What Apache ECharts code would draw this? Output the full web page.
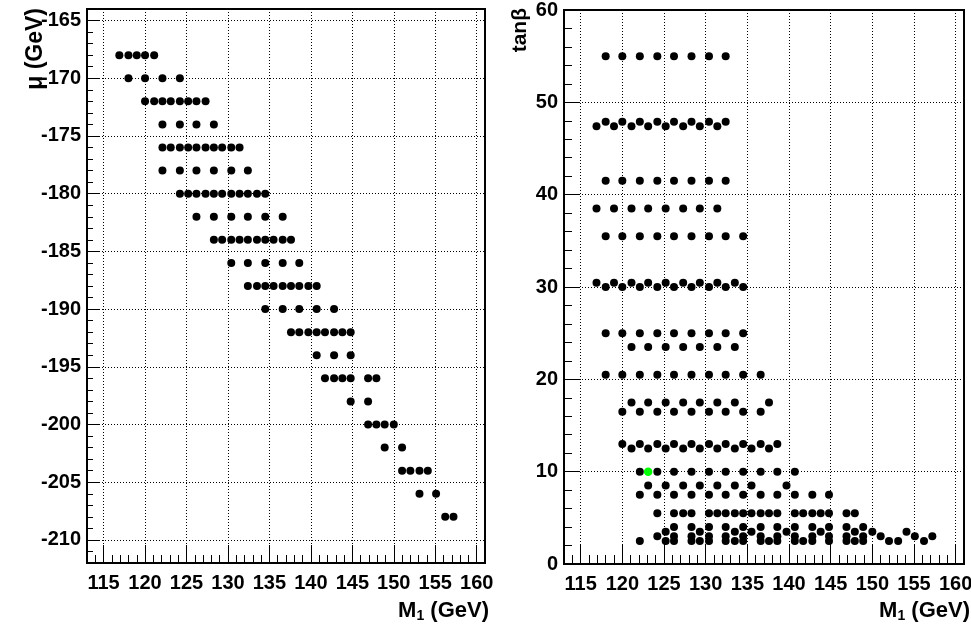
<!DOCTYPE html>
<html><head><meta charset="utf-8">
<script src="https://cdn.jsdelivr.net/npm/echarts@6/dist/echarts.min.js"></script>
<style>html,body{margin:0;padding:0;background:#fff}#c{width:971px;height:630px}</style>
</head><body><div id="c"></div><script>
// ---- data ----
// Left panel: mu (GeV) rows -> M1 (GeV) values
const muRows = [
  [-168, [116.9,118.0,119.0,120.0,121.1]],
  [-170, [118.0,120.0,122.1,124.2]],
  [-172, [120.0,121.1,122.1,123.1,124.2,125.2,126.2,127.3]],
  [-174, [122.1,124.2,126.2,128.3]],
  [-176, [122.1,123.1,124.2,125.2,126.2,127.3,128.3,129.3,130.4,131.4]],
  [-178, [122.1,124.2,126.2,128.3,130.4,132.4]],
  [-180, [124.2,125.2,126.2,127.3,128.3,129.3,130.4,131.4,132.4,133.5,134.5]],
  [-182, [126.2,128.3,130.4,132.4,134.5,136.6]],
  [-184, [128.3,129.3,130.4,131.4,132.4,133.5,134.5,135.5,136.6,137.6]],
  [-186, [130.4,132.4,134.5,136.6,138.6]],
  [-188, [132.4,133.5,134.5,135.5,136.6,137.6,138.6,139.7,140.7]],
  [-190, [134.5,136.6,138.6,140.7,142.8]],
  [-192, [137.6,138.6,139.7,140.7,141.7,142.8,143.8,144.8]],
  [-194, [140.7,142.8,144.8]],
  [-196, [141.7,142.8,143.8,144.8,146.9,147.9]],
  [-198, [144.8,146.9]],
  [-200, [146.9,147.9,148.9,150.0]],
  [-202, [148.9,151.0]],
  [-204, [151.0,152.0,153.1,154.1]],
  [-206, [153.1,155.1]],
  [-208, [156.2,157.2]]
];
// Right panel: tan(beta) rows -> M1 (GeV) values
const tbRows = [
  [55.0, [118.0,120.0,122.1,124.2,126.2,128.3,130.4,132.4]],
  [47.9, [118.0,120.0,122.1,124.2,126.2,128.3,130.4,132.4]],
  [47.4, [116.9,119.0,121.1,123.1,125.2,127.3,129.3,131.4]],
  [41.5, [118.0,120.0,122.1,124.2,126.2,128.3,130.4,132.4]],
  [38.5, [116.9,119.0,121.1,123.1,125.2,127.3,129.3,131.4]],
  [35.5, [118.0,120.0,122.1,124.2,126.2,128.3,130.4,132.4,134.5]],
  [30.45,[116.9,119.0,121.1,123.1,125.2,127.3,129.3,131.4,133.5]],
  [30.0, [118.0,120.0,122.1,124.2,126.2,128.3,130.4,132.4,134.5]],
  [25.0, [118.0,120.0,122.1,124.2,126.2,128.3,130.4,132.4,134.5]],
  [23.5, [121.1,123.1,125.2,127.3,129.3,131.4,133.5]],
  [20.5, [118.0,120.0,122.1,124.2,126.2,128.3,130.4,132.4,134.5,136.6]],
  [17.5, [121.1,123.1,125.2,127.3,129.3,131.4,133.5,137.6]],
  [16.5, [120.0,122.1,124.2,126.2,128.3,130.4,132.4,134.5,136.6]],
  [13.0, [120.0,122.1,124.2,126.2,128.3,130.4,132.4,134.5,136.6,138.6]],
  [12.5, [121.1,123.1,125.2,127.3,129.3,131.4,133.5,135.5,137.6]],
  [10.0, [122.1,124.2,126.2,128.3,130.4,132.4,134.5,136.6,138.6,140.7]],
  [8.5,  [123.1,125.2,127.3,129.3,131.4,133.5,135.5,139.7]],
  [7.5,  [122.1,124.2,126.2,128.3,130.4,132.4,134.5,136.6,138.6,140.7,142.8,144.8]],
  [5.5,  [124.2,126.2,127.3,128.3,130.4,131.4,132.4,133.5,134.5,135.5,136.6,137.6,138.6,140.7,141.7,142.8,143.8,144.8,146.9,147.9]],
  [4.0,  [126.2,128.3,130.4,132.4,134.5,136.6,138.6,140.7,142.8,144.8,146.9,148.9]],
  [3.5,  [125.2,129.3,133.5,135.5,139.7,143.8,147.9,150.0,154.1]],
  [3.0,  [124.2,126.2,128.3,130.4,132.4,134.5,136.6,138.6,140.7,142.8,144.8,146.9,148.9,151.0,155.1,157.2]],
  [2.5,  [122.1,125.2,126.2,128.3,129.3,130.4,132.4,133.5,134.5,136.6,137.6,138.6,140.7,141.7,142.8,144.8,146.9,147.9,148.9,152.0,153.1,156.2]]
];
const greenPoint = [[123.1, 10.0]];
const xRange = [113, 161];
const muRange = [-212, -164];
const tbRange = [0, 60];

// ---- build ----
function rowsToData(rows) {
  const out = [];
  rows.forEach(function (r) { r[1].forEach(function (x) { out.push([x, r[0]]); }); });
  return out;
}
const FONT = '"Liberation Sans", Arial, Helvetica, sans-serif';
const lbl = { color: '#000', fontSize: 20, fontWeight: 'bold', fontFamily: FONT };
const dotted = { color: '#000', width: 1, type: [1, 2] };
const fmt5 = function (v) { return (Math.abs(v % 5) < 1e-6) ? String(v) : ''; };

function majorAxis(grid, pos, range, opts) {
  return Object.assign({
    type: 'value', gridIndex: grid, position: pos, min: range[0], max: range[1],
    axisLine: { show: true, onZero: false, lineStyle: { color: '#000', width: 2 } },
    axisTick: { show: true, inside: true, length: 15, lineStyle: { color: '#000', width: 1 } },
    axisLabel: Object.assign({ show: true, margin: 6, formatter: fmt5 }, lbl),
    splitLine: { show: true, lineStyle: dotted },
    minorTick: { show: false }
  }, opts);
}
function minorAxis(grid, pos, range, interval, len) {
  return {
    type: 'value', gridIndex: grid, position: pos, min: range[0], max: range[1], interval: interval,
    axisLine: { show: false, onZero: false },
    axisTick: { show: true, inside: true, length: len, lineStyle: { color: '#000', width: 1 } },
    axisLabel: { show: false }, splitLine: { show: false }
  };
}
const richTitle = {
  a: { fontSize: 22, fontWeight: 'bold', fontFamily: FONT, fill: '#000', lineHeight: 24 },
  b: { fontSize: 14, fontWeight: 'bold', fontFamily: FONT, fill: '#000', lineHeight: 10, verticalAlign: 'bottom' }
};

const option = {
  backgroundColor: '#fff',
  animation: false,
  grid: [
    { left: 87, top: 9, width: 398, height: 554, show: true, borderColor: '#000', borderWidth: 2, backgroundColor: 'rgba(0,0,0,0)', outerBoundsMode: 'none' },
    { left: 564, top: 10, width: 400, height: 554, show: true, borderColor: '#000', borderWidth: 2, backgroundColor: 'rgba(0,0,0,0)', outerBoundsMode: 'none' }
  ],
  xAxis: [
    majorAxis(0, 'bottom', xRange, { splitNumber: 10, axisTick: { show: true, inside: true, length: 18, lineStyle: { color: '#000', width: 1 } }, axisLabel: Object.assign({ show: true, margin: 10, formatter: fmt5 }, lbl) }),
    minorAxis(0, 'bottom', xRange, 1, 8),
    majorAxis(1, 'bottom', xRange, { splitNumber: 10, axisTick: { show: true, inside: true, length: 19, lineStyle: { color: '#000', width: 1 } }, axisLabel: Object.assign({ show: true, margin: 10, formatter: fmt5 }, lbl) }),
    minorAxis(1, 'bottom', xRange, 1, 9)
  ],
  yAxis: [
    majorAxis(0, 'left', muRange, { splitNumber: 10, axisTick: { show: true, inside: true, length: 13, lineStyle: { color: '#000', width: 1 } } }),
    minorAxis(0, 'left', muRange, 1, 6),
    majorAxis(1, 'left', tbRange, {
      interval: 10,
      axisLabel: Object.assign({ show: true, margin: 6 }, lbl),
      minorTick: { show: true, splitNumber: 5, length: 8, lineStyle: { color: '#000', width: 1 } }
    })
  ],
  series: [
    { type: 'scatter', xAxisIndex: 0, yAxisIndex: 0, data: rowsToData(muRows), symbol: 'circle', symbolSize: 8, itemStyle: { color: '#000', opacity: 1 }, silent: true, z: 3 },
    { type: 'scatter', xAxisIndex: 2, yAxisIndex: 2, data: rowsToData(tbRows), symbol: 'circle', symbolSize: 8, itemStyle: { color: '#000', opacity: 1 }, silent: true, z: 3 },
    { type: 'scatter', xAxisIndex: 2, yAxisIndex: 2, data: greenPoint, symbol: 'circle', symbolSize: 8.5, itemStyle: { color: '#00ff00', opacity: 1 }, silent: true, z: 4 }
  ],
  graphic: [
    { type: 'text', x: 36, y: 8, rotation: Math.PI / 2, style: { text: 'μ (GeV)', font: 'bold 23px ' + FONT, fill: '#000', align: 'right', verticalAlign: 'middle' } },
    { type: 'text', x: 520, y: 8, rotation: Math.PI / 2, style: { text: 'tanβ', font: 'bold 21px ' + FONT, fill: '#000', align: 'right', verticalAlign: 'middle' } },
    { type: 'text', x: 489, y: 611, style: { text: '{a|M}{b|1}{a| (GeV)}', align: 'right', verticalAlign: 'middle', rich: richTitle } },
    { type: 'text', x: 970, y: 611, style: { text: '{a|M}{b|1}{a| (GeV)}', align: 'right', verticalAlign: 'middle', rich: richTitle } }
  ]
};
const chart = echarts.init(document.getElementById('c'), null, { renderer: 'canvas' });
chart.setOption(option);
</script></body></html>
